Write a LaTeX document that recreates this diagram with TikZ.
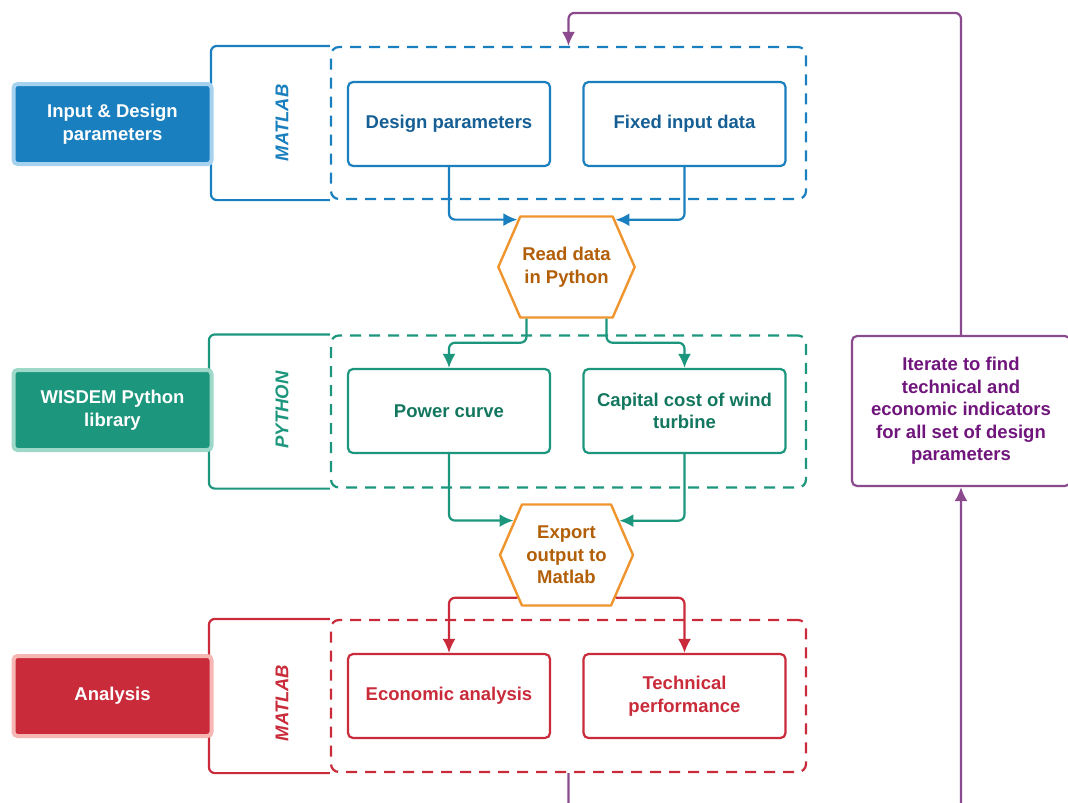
\documentclass[tikz,border=0pt]{standalone}
\usepackage{fontspec}
\setmainfont{Liberation Sans}
\usetikzlibrary{shapes,arrows.meta,calc}

\definecolor{blueA}{HTML}{1A7FBE}
\definecolor{blueL}{HTML}{A6D2EF}
\definecolor{blueT}{HTML}{155F95}
\definecolor{tealA}{HTML}{1C967C}
\definecolor{tealL}{HTML}{9ED8C8}
\definecolor{tealT}{HTML}{13775F}
\definecolor{redA}{HTML}{C92B3A}
\definecolor{redL}{HTML}{F6B6B3}
\definecolor{orangeA}{HTML}{F0942E}
\definecolor{orangeT}{HTML}{B35F08}
\definecolor{purpA}{HTML}{8B4A8E}
\definecolor{purpT}{HTML}{70157C}

\begin{document}
\begin{tikzpicture}[
    x=1pt, y=-1pt,
    every node/.style={font=\bfseries\fontsize{18.5}{22.5}\selectfont, align=center},
    sidebox/.style={
      rectangle,
      draw,
      rounded corners=4pt,
      line width=4pt,
      minimum width=198pt,
      minimum height=80pt,
      text=white
    },
    block/.style={
      rectangle,
      draw,
      fill=white,
      rounded corners=5pt,
      line width=2.2pt,
      minimum width=202pt,
      minimum height=84pt
    },
    frame/.style={
      rectangle,
      draw,
      dash pattern=on 11pt off 8pt,
      rounded corners=8pt,
      line width=2.2pt,
      minimum width=475pt,
      minimum height=152pt
    },
    hexa/.style={
      signal,
      signal to=west and east,
      signal pointer angle=133,
      draw=orangeA,
      fill=white,
      text=orangeT,
      line width=2.4pt,
      line join=round,
      minimum width=133pt,
      minimum height=101pt,
      inner sep=2pt
    },
    tag/.style={rotate=90, font=\bfseries\itshape\fontsize{18.5}{22.5}\selectfont},
    bracket/.style={draw, rounded corners=6pt, line width=2.2pt},
    line/.style={draw, -{Latex[length=14pt,width=13pt]}, line width=2.2pt, rounded corners=6pt},
]
    \useasboundingbox (0,0) rectangle (1068,803);

    % MATLAB input layer
    \node [frame, draw=blueA] (blueframe) at (568.5,123) {};
    \draw [bracket, blueA] (blueframe.north west) -- ++(-119,0) |- (blueframe.south west);
    \node [tag, text=blueA] (matlabin) at (282,123) {MATLAB};
    \node [block, draw=blueA, text=blueT] (design) at (449,124) {Design parameters};
    \node [block, draw=blueA, text=blueT] (fixed) at (684.5,124) {Fixed input data};
    \node [sidebox, fill=blueA, draw=blueL] (input) at (112.5,124) {Input \& Design\\parameters};

    \node [hexa] (read) at (566.5,267) {Read data\\in Python};

    % Python layer
    \node [frame, draw=tealA] (tealframe) at (568.5,411.5) {};
    \draw [bracket, tealA] (tealframe.north west) -- ++(-121,0) |- (tealframe.south west);
    \node [tag, text=tealA] (python) at (282,410) {PYTHON};
    \node [block, draw=tealA, text=tealT] (power) at (449,411) {Power curve};
    \node [block, draw=tealA, text=tealT] (capital) at (684.5,411) {Capital cost of wind\\turbine};
    \node [sidebox, fill=tealA, draw=tealL] (wisdem) at (112.5,410) {WISDEM Python\\library};

    \node [hexa] (export) at (566.5,555) {Export\\output to\\Matlab};

    % MATLAB analysis layer
    \node [frame, draw=redA] (redframe) at (568.5,696) {};
    \draw [bracket, redA] (redframe.north west) -- ++(-121,0) |- (redframe.south west);
    \node [tag, text=redA] (matlabout) at (282,703) {MATLAB};
    \node [block, draw=redA, text=redA] (econ) at (449,696) {Economic analysis};
    \node [block, draw=redA, text=redA] (tech) at (684.5,696) {Technical\\performance};
    \node [sidebox, fill=redA, draw=redL] (analysis) at (112.5,696) {Analysis};

    % loop
    \node [block, draw=purpA, text=purpT, minimum width=218pt, minimum height=150pt] (iter) at (961,411)
      {Iterate to find\\technical and\\economic indicators\\for all set of design\\parameters};

    \path [line, blueA] (design.south) |- (read.136);
    \path [line, blueA] (fixed.south) |- (read.44);
    \path [line, tealA] ([xshift=-40pt]read.south) -- ++(0,24) -| (power.north);
    \path [line, tealA] ([xshift=40pt]read.south) -- ++(0,24) -| (capital.north);
    \path [line, tealA] (power.south) |- (export.147);
    \path [line, tealA] (capital.south) |- (export.33);
    \path [line, redA] (export.221) -| (econ.north);
    \path [line, redA] (export.-41) -| (tech.north);
    \path [line, purpA] (iter.north) |- ([yshift=33pt]blueframe.north) -- (blueframe.north);
    \path [line, purpA] (redframe.south) -- ++(0,80) -| (iter.south);

\end{tikzpicture}
\end{document}
